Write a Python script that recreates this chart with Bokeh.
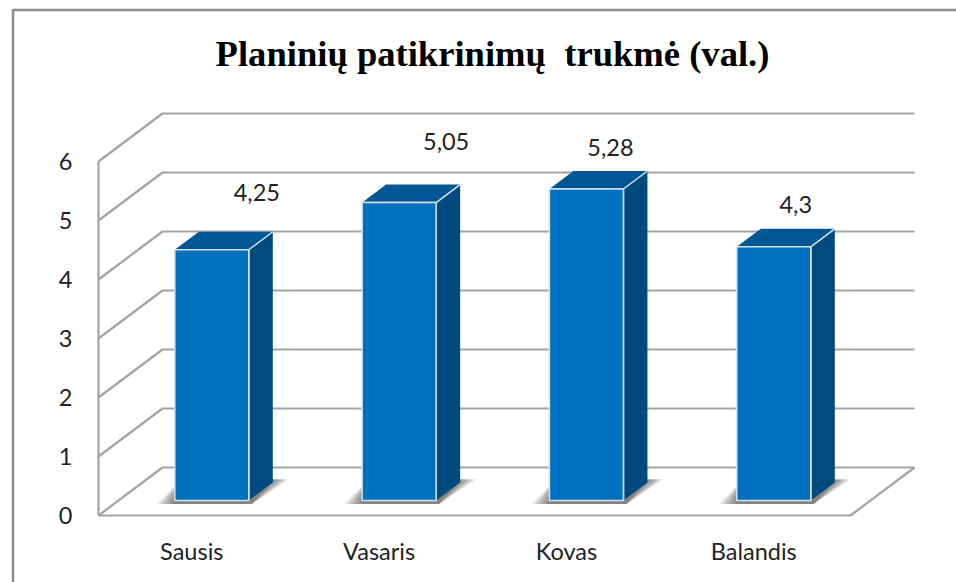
from bokeh.plotting import figure
from bokeh.models import LinearAxis, FixedTicker, Range1d, ColumnDataSource
from bokeh.core.properties import value
from bokeh.embed import file_html
from bokeh.resources import INLINE

title_text = "Planinių patikrinimų \u00a0trukmė (val.)"
months = ["Sausis", "Vasaris", "Kovas", "Balandis"]
hours = [4.25, 5.05, 5.28, 4.3]
hour_labels = ["4,25", "5,05", "5,28", "4,3"]
y_ticks = [0, 1, 2, 3, 4, 5, 6]

# layout: one category = 187.33 px, one hour = 59 px
CAT, UNIT = 187.33, 59.0
W, H = 956, 582
ORIGIN_X, ORIGIN_Y = 191.3, 515.0     # page pixel of category 0, value 0
DX, DY = 64.0 / CAT, 48.0 / UNIT      # full depth of the 3D box
HALF = 37.0 / CAT
D0, D1 = 15.0 / 48.0, 33.0 / 48.0     # bar depth span

def px(x):
    return (x - ORIGIN_X) / CAT

def py(y):
    return (ORIGIN_Y - y) / UNIT

def proj(x, v, d):
    return x + d * DX, v + d * DY

GRID = "#a3a3a3"
FRAME = "#8c8c8c"
TXT = "#222222"
FONT = "Lato"

p = figure(width=W, height=H, output_backend="svg", toolbar_location=None,
           x_axis_type=None, y_axis_type=None,
           x_range=Range1d(px(0), px(W)),
           y_range=Range1d(py(H), py(0)),
           min_border=0, outline_line_color=None)
p.grid.visible = False
p.background_fill_color = "white"
p.border_fill_color = "white"

# outer chart frame
p.line([px(12.5), px(12.5), px(W)], [py(H), py(9.5), py(9.5)],
       line_color=FRAME, line_width=2.5)

# walls, floor
x_left, x_right = px(98), px(850)
for t in y_ticks:
    x0, y0 = proj(x_left, t, 0)
    x1, y1 = proj(x_left, t, 1)
    x2, y2 = proj(x_right, t, 1)
    p.line([x0, x1, x2], [y0, y1, y2], line_color=GRID, line_width=2.2)
fx, fy = proj(x_right, 0, 0)
bx, by = proj(x_right, 0, 1)
p.line([x_left, fx, bx], [0, fy, by], line_color=GRID, line_width=2.2)

# soft shadows on the floor
LAYERS = 12
for i, m in enumerate(months):
    for k in range(LAYERS):
        f = 1 - k / (LAYERS - 1)
        lx0 = (i - HALF + D0 * DX) - (18 * f) / CAT
        rx0 = (i + HALF + D0 * DX) + 3 / CAT
        rx1 = (i + HALF + D1 * DX) + (16 * f) / CAT
        lx1 = (i - HALF + D0 * DX) + 6 / CAT
        yb = D0 * DY - 3.5 / UNIT
        yt = D0 * DY + 21 / UNIT
        p.patch([lx0, rx0, rx1, lx1], [yb, yb, yt, yt],
                fill_color="#444444", fill_alpha=0.08, line_color=None)

# bars
EDGE = "#d5e3f0"
for i, v in enumerate(hours):
    l, r = i - HALF, i + HALF
    a = proj(r, 0, D0); b = proj(r, 0, D1); c = proj(r, v, D1); d = proj(r, v, D0)
    p.patch([a[0], b[0], c[0], d[0]], [a[1], b[1], c[1], d[1]],
            fill_color="#004a80", line_color=None)
    e = proj(l, v, D0); f = proj(l, v, D1)
    p.patch([e[0], d[0], c[0], f[0]], [e[1], d[1], c[1], f[1]],
            fill_color="#005794", line_color=None)
    p.line([e[0], d[0], c[0]], [e[1], d[1], c[1]], line_color=EDGE, line_width=1.5)
    p.line([d[0], a[0]], [d[1], a[1]], line_color=EDGE, line_width=1.5)
    s = proj(l, 0, D0)
    p.quad(left=s[0], right=a[0], bottom=s[1], top=e[1],
           fill_color="#0070c0", line_color=EDGE, line_width=1.5)

# value labels, hand-placed as in the picture
label_dx = [45, 47, 24, 22]
label_dy = [57, 61, 41, 42]
src = ColumnDataSource(dict(
    x=[i + D0 * DX for i in range(len(hours))],
    y=[v + D0 * DY for v in hours],
    t=hour_labels, xo=label_dx, yo=[-d for d in label_dy]))
p.text("x", "y", text="t", source=src, x_offset="xo", y_offset="yo",
       text_align="center", text_baseline="middle",
       text_font=value(FONT), text_font_size="23.5px", text_color=TXT)

# title
p.text([px(492)], [py(53)], text=[title_text], text_align="center",
       text_baseline="middle", text_font=value("Liberation Serif"),
       text_font_style="bold", text_font_size="36.6px", text_color="#000000")

# axes
yax = LinearAxis(fixed_location=x_left, ticker=FixedTicker(ticks=y_ticks),
                 bounds=(0, 6))
yax.axis_line_color = GRID
yax.axis_line_width = 2.2
yax.major_tick_line_color = None
yax.minor_tick_line_color = None
yax.major_label_standoff = 20
yax.major_label_text_font = FONT
yax.major_label_text_font_size = "23.5px"
yax.major_label_text_color = TXT
p.add_layout(yax, "left")

xax = LinearAxis(fixed_location=0, ticker=FixedTicker(ticks=list(range(len(months)))),
                 bounds=(x_left, x_right))
xax.major_label_overrides = {i: m for i, m in enumerate(months)}
xax.axis_line_color = None
xax.major_tick_line_color = None
xax.minor_tick_line_color = None
xax.major_label_standoff = 15
xax.major_label_text_font = FONT
xax.major_label_text_font_size = "23.5px"
xax.major_label_text_color = TXT
p.add_layout(xax, "below")

open("out.html", "w").write(file_html(p, INLINE))
